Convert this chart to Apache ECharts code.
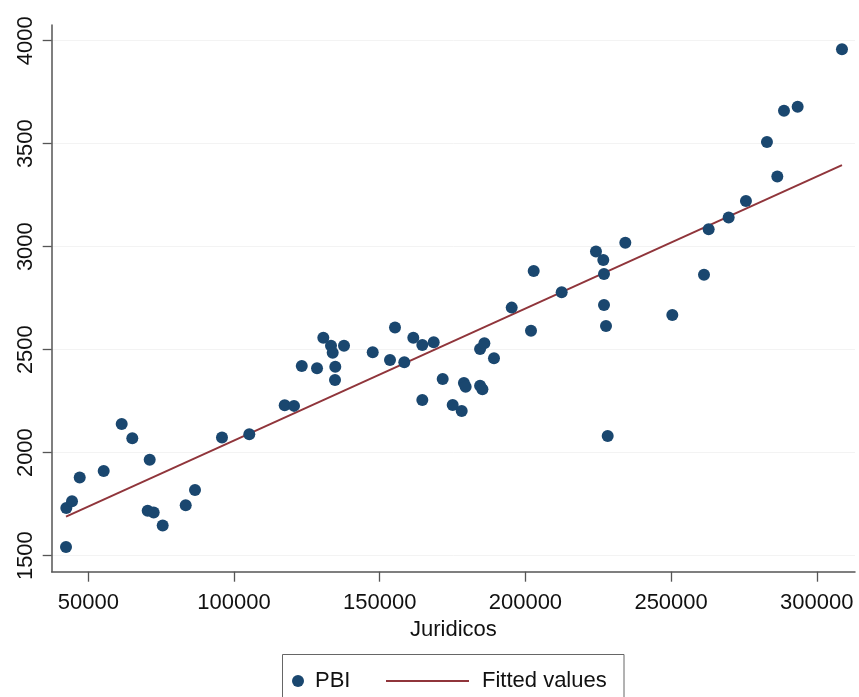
<!DOCTYPE html>
<html>
<head>
<meta charset="utf-8">
<script src="https://cdn.jsdelivr.net/npm/echarts@6/dist/echarts.min.js"></script>
<style>
html,body{margin:0;padding:0;background:#fff;}
#chart{width:859px;height:697px;}
</style>
</head>
<body>
<div id="chart"></div>
<script>
// Data
const juridicos = [42350, 42460, 44410, 47050, 55280, 61460, 65100, 71070, 70380, 72440,
  75530, 83430, 86620, 95880, 105250, 117400, 120590, 123260, 128490, 130650,
  133290, 133870, 134760, 134660, 137750, 147600, 153530, 155250, 158440, 161530,
  164620, 164620, 168530, 171620, 175050, 178140, 178900, 179500, 184450, 185250,
  184450, 185920, 189220, 195300, 201920, 202850, 212450, 224220, 226730, 226970,
  226970, 227660, 228240, 234290, 250420, 261290, 262890, 269750, 275690, 286450,
  282900, 288740, 293430, 308640];
const pbi = [1542, 1731, 1764, 1879, 1911, 2139, 2070, 1965, 1718, 1709,
  1646, 1745, 1819, 2073, 2089, 2230, 2227, 2421, 2410, 2558,
  2519, 2485, 2417, 2353, 2519, 2487, 2450, 2607, 2439, 2558,
  2523, 2256, 2536, 2358, 2231, 2202, 2338, 2320, 2325, 2308,
  2503, 2531, 2458, 2704, 2592, 2882, 2779, 2976, 2935, 2867,
  2717, 2615, 2081, 3019, 2668, 2863, 3084, 3141, 3222, 3340,
  3508, 3660, 3679, 3958];
const fitX = [42350, 308640];
const fitY = [1689, 3396];
const xTicks = [50000, 100000, 150000, 200000, 250000, 300000];
const yTicks = [1500, 2000, 2500, 3000, 3500, 4000];
const seriesNames = ['PBI', 'Fitted values'];
const xName = 'Juridicos';

const scatterData = juridicos.map((x, i) => [x, pbi[i]]);
const fitData = fitX.map((x, i) => [x, fitY[i]]);

const chart = echarts.init(document.getElementById('chart'));
const font = 'Liberation Sans, Arial, sans-serif';
const plain = v => String(v);
chart.setOption({
  animation: false,
  backgroundColor: '#ffffff',
  grid: { left: 51.7, top: 25, right: 4, bottom: 125.3, containLabel: false },
  xAxis: {
    type: 'value',
    min: 37440, max: 313110,
    name: xName,
    nameLocation: 'middle',
    nameGap: 46,
    nameTextStyle: { fontFamily: font, fontSize: 22, color: '#111' },
    axisLine: { show: true, onZero: false, lineStyle: { color: '#555', width: 1.5 } },
    axisTick: { show: true, inside: false, length: 10, customValues: xTicks, lineStyle: { color: '#555', width: 1.3 } },
    axisLabel: { customValues: xTicks, formatter: plain, margin: 20, fontFamily: font, fontSize: 22, color: '#111' },
    splitLine: { show: false }
  },
  yAxis: {
    type: 'value',
    min: 1422, max: 4076,
    axisLine: { show: true, onZero: false, lineStyle: { color: '#555', width: 1.5 } },
    axisTick: { show: true, inside: false, length: 9, customValues: yTicks, lineStyle: { color: '#555', width: 1.3 } },
    axisLabel: { customValues: yTicks, formatter: plain, rotate: 90, margin: 15, fontFamily: font, fontSize: 22, color: '#111' },
    splitLine: { show: true, lineStyle: { color: '#f3f3f3', width: 1 } }
  },
  legend: [
    {
      data: [seriesNames[0]],
      left: 292, top: 669, padding: 0,
      itemWidth: 24, itemHeight: 12,
      icon: 'circle',
      textStyle: { fontFamily: font, fontSize: 22, color: '#111', lineHeight: 24 }
    },
    {
      data: [seriesNames[1]],
      left: 386, top: 669, padding: 0,
      itemWidth: 83, itemHeight: 2,
      icon: 'rect',
      itemStyle: { color: '#90353b' },
      textStyle: { fontFamily: font, fontSize: 22, color: '#111', lineHeight: 24, padding: [0, 0, 0, 8] }
    }
  ],
  graphic: [
    {
      type: 'rect',
      shape: { x: 282.5, y: 654.5, width: 341.5, height: 60 },
      style: { fill: 'none', stroke: '#666', lineWidth: 1 },
      silent: true
    }
  ],
  series: [
    {
      name: seriesNames[0],
      type: 'scatter',
      data: scatterData,
      symbol: 'circle',
      symbolSize: 12,
      itemStyle: { color: '#1a476f', opacity: 1 },
      z: 3
    },
    {
      name: seriesNames[1],
      type: 'line',
      data: fitData,
      showSymbol: false,
      symbol: 'none',
      lineStyle: { color: '#90353b', width: 2 },
      itemStyle: { color: '#90353b' },
      z: 2
    }
  ]
});
</script>
</body>
</html>
